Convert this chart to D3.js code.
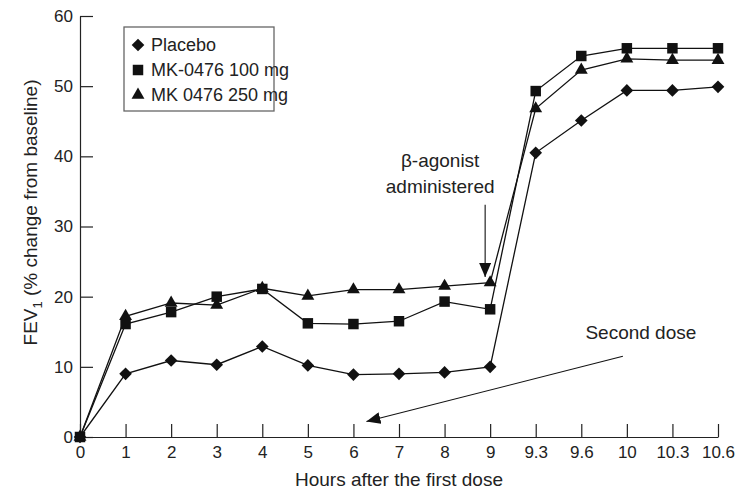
<!DOCTYPE html>
<html>
<head>
<meta charset="utf-8">
<script src="https://cdn.jsdelivr.net/npm/d3@7"></script>
<style>
  body { margin: 0; background: #fff; }
  svg { display: block; font-family: "Liberation Sans", Arial, Helvetica, sans-serif; }
  .axis path, .axis line { stroke: #222; stroke-width: 1.2; }
  .axis text { font-size: 17px; fill: #222; }
</style>
</head>
<body>
<div id="chart"></div>
<script>
// hours after the first dose (equally spaced categories)
const hours = ["0", "1", "2", "3", "4", "5", "6", "7", "8", "9", "9.3", "9.6", "10", "10.3", "10.6"];
const yTicks = [0, 10, 20, 30, 40, 50, 60];

// FEV1, % change from baseline
const placebo = [0, 9.0, 10.9, 10.3, 12.9, 10.2, 8.9, 9.0, 9.2, 10.0, 40.5, 45.1, 49.4, 49.4, 49.9];
const mk100   = [0, 16.1, 17.8, 20.0, 21.1, 16.2, 16.1, 16.5, 19.3, 18.2, 49.3, 54.3, 55.4, 55.4, 55.4];
const mk250   = [0, 17.2, 19.1, 18.8, 21.2, 20.1, 21.0, 21.0, 21.5, 22.0, 46.8, 52.3, 53.9, 53.7, 53.7];

const seriesNames = ["Placebo", "MK-0476 100 mg", "MK 0476 250 mg"];

const width = 735, height = 491;
const margin = {top: 16, right: 17, bottom: 54, left: 80};

const svg = d3.select("#chart").append("svg")
  .attr("width", width)
  .attr("height", height);

const x = d3.scalePoint()
  .domain(hours)
  .range([margin.left, width - margin.right]);

const y = d3.scaleLinear()
  .domain([0, 60])
  .range([height - margin.bottom, margin.top]);

// axes, ticks point inward
svg.append("g")
  .attr("class", "axis")
  .attr("transform", `translate(0,${y(0)})`)
  .call(d3.axisBottom(x).tickSizeInner(-13).tickSizeOuter(0).tickPadding(9));

svg.append("g")
  .attr("class", "axis")
  .attr("transform", `translate(${x("0")},0)`)
  .call(d3.axisLeft(y).tickValues(yTicks).tickSizeInner(-13).tickSizeOuter(0).tickPadding(7));

// axis titles
svg.append("text")
  .attr("x", (x("0") + x("10.6")) / 2)
  .attr("y", height - 5)
  .attr("text-anchor", "middle")
  .style("font-size", "19px")
  .style("fill", "#222")
  .text("Hours after the first dose");

const yl = svg.append("text")
  .attr("transform", `translate(37,${y(32)}) rotate(-90)`)
  .attr("text-anchor", "middle")
  .style("font-size", "19px")
  .style("fill", "#222");
yl.append("tspan").text("FEV");
yl.append("tspan").attr("dy", 5).style("font-size", "13px").text("1");
yl.append("tspan").attr("dy", -5).text(" (% change from baseline)");

// marker shapes
const diamond = d3.symbol(d3.symbolSquare, 80);
const square = d3.symbol(d3.symbolSquare, 110);
const triangle = d3.symbol(d3.symbolTriangle, 72);

const series = [
  {name: seriesNames[0], values: placebo, shape: diamond, rot: 45},
  {name: seriesNames[1], values: mk100, shape: square, rot: 0},
  {name: seriesNames[2], values: mk250, shape: triangle, rot: 0}
];

const line = d3.line()
  .x((d, i) => x(hours[i]))
  .y(d => y(d));

series.forEach(s => {
  svg.append("path")
    .datum(s.values)
    .attr("fill", "none")
    .attr("stroke", "#111")
    .attr("stroke-width", 1.3)
    .attr("d", line);
});

series.forEach(s => {
  svg.selectAll(null)
    .data(s.values)
    .enter()
    .append("path")
    .attr("d", s.shape)
    .attr("fill", "#111")
    .attr("transform", (d, i) => `translate(${x(hours[i])},${y(d)}) rotate(${s.rot})`);
});

// legend
const lg = svg.append("g").attr("transform", "translate(124,27)");
lg.append("rect")
  .attr("width", 150)
  .attr("height", 84)
  .attr("fill", "#fff")
  .attr("stroke", "#666")
  .attr("stroke-width", 1.3);
series.forEach((s, i) => {
  lg.append("path")
    .attr("d", s.shape)
    .attr("fill", "#111")
    .attr("transform", `translate(14,${18 + i * 25}) rotate(${s.rot})`);
  lg.append("text")
    .attr("x", 27)
    .attr("y", 24 + i * 25)
    .style("font-size", "18px")
    .style("fill", "#222")
    .text(s.name);
});

// annotations
svg.append("defs").append("marker")
  .attr("id", "arrow")
  .attr("viewBox", "0 0 14 12")
  .attr("refX", 14)
  .attr("refY", 6)
  .attr("markerWidth", 14)
  .attr("markerHeight", 12)
  .attr("markerUnits", "userSpaceOnUse")
  .attr("orient", "auto")
  .append("path")
  .attr("d", "M0,0 L14,6 L0,12 Z")
  .attr("fill", "#111");

svg.append("line")
  .attr("x1", x("9") - 5).attr("y1", y(33.1))
  .attr("x2", x("9") - 5).attr("y2", y(22.8))
  .attr("stroke", "#111")
  .attr("stroke-width", 1.1)
  .attr("marker-end", "url(#arrow)");

svg.append("text")
  .attr("x", x("9") - 50)
  .attr("y", y(38.5))
  .attr("text-anchor", "middle")
  .style("font-size", "19px")
  .style("fill", "#222")
  .text("β-agonist");
svg.append("text")
  .attr("x", x("9") - 50)
  .attr("y", y(34.8))
  .attr("text-anchor", "middle")
  .style("font-size", "19px")
  .style("fill", "#222")
  .text("administered");

svg.append("line")
  .attr("x1", x("10") - 4).attr("y1", y(11.5))
  .attr("x2", x("6") + 13).attr("y2", y(2.2))
  .attr("stroke", "#111")
  .attr("stroke-width", 1.1)
  .attr("marker-end", "url(#arrow)");

svg.append("text")
  .attr("x", x("10") + 14)
  .attr("y", y(13.9))
  .attr("text-anchor", "middle")
  .style("font-size", "19px")
  .style("fill", "#222")
  .text("Second dose");
</script>
</body>
</html>
